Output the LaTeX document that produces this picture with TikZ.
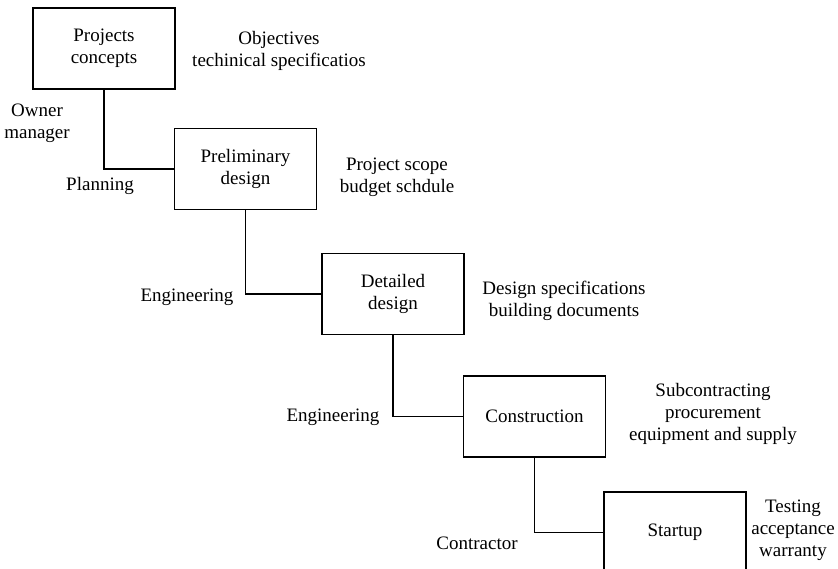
\documentclass[tikz,border=0pt]{standalone}
\usepackage{fontspec}
\setmainfont{Liberation Serif}
\usepackage{tikz}
\usetikzlibrary{positioning}

\begin{document}
\begin{tikzpicture}[x=1pt, y=-1pt,
    every node/.style={font=\fontsize{19}{22}\selectfont, align=center},
    phase/.style={draw, line width=1.8pt, minimum width=142pt, minimum height=81pt, inner sep=0pt},
    link/.style={line width=1.8pt}]
    \useasboundingbox (0,0) rectangle (838,569);
    % phases
    \node[phase] (concept) at (104,48.5) {Projects\\concepts};
    \node[phase] (prelim) at (245.5,169) {Preliminary\\design};
    \node[phase] (detail) at (393,294) {Detailed\\design};
    \node[phase] (constr) at (534.5,416.5) {Construction};
    \node[phase] (startup) at (675,532.5) {Startup};
    \draw[link] (concept.south) |- (prelim.west);
    \draw[link] (prelim.south) |- (detail.west);
    \draw[link] (detail.south) |- (constr.west);
    \draw[link] (constr.south) |- (startup.west);
    % who is in charge
    \node (owner) at (37,123.5) {Owner\\manager};
    \node (plan) at (100,186) {Planning};
    \node (eng1) at (187,297) {Engineering};
    \node (eng2) at (333,417) {Engineering};
    \node (contr) at (477,543) {Contractor};
    % outputs of each phase
    \node (obj) at (279,51) {Objectives\\techinical specificatios};
    \node (scope) at (397,177.5) {Project scope\\budget schdule};
    \node (spec) at (564,301) {Design specifications\\building documents};
    \node (sub) at (713,413.5) {Subcontracting\\procurement\\equipment and supply};
    \node (test) at (793,530.5) {Testing\\acceptance\\warranty};
\end{tikzpicture}
\end{document}
